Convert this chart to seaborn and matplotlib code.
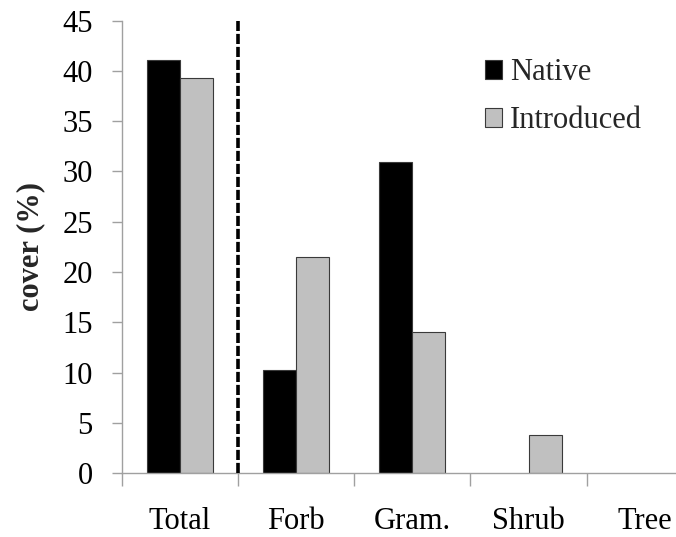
import matplotlib
matplotlib.use("Agg")
import matplotlib.pyplot as plt
from matplotlib.patches import Patch
import seaborn as sns
import pandas as pd

categories = ["Total", "Forb", "Gram.", "Shrub", "Tree"]
native = [41.1, 10.3, 30.9, 0.0, 0.0]
introduced = [39.3, 21.5, 14.0, 3.8, 0.0]
origins = ["Native", "Introduced"]
colors = ["#000000", "#c0c0c0"]
y_ticks = [0, 5, 10, 15, 20, 25, 30, 35, 40, 45]

df = pd.DataFrame({
    "category": categories * 2,
    "cover": native + introduced,
    "origin": [origins[0]] * len(categories) + [origins[1]] * len(categories),
})

sns.set_theme(style="white")
plt.rcParams["font.family"] = ["Liberation Serif", "DejaVu Serif"]

fig = plt.figure(figsize=(6.76, 5.37), dpi=100)
ax = fig.add_axes([0.1805, 0.1186, 0.8195, 0.8432])

sns.barplot(data=df, x="category", y="cover", hue="origin", order=categories,
            hue_order=origins, palette=colors, width=0.57, gap=0,
            edgecolor="#3a3a3a", linewidth=0.8, saturation=1, ax=ax,
            legend=False, errorbar=None)

# empty bars should not leave an outline on the baseline
for bar in ax.patches:
    if bar.get_height() == 0:
        bar.set_linewidth(0)

# dashed separator between the total and the growth forms
ax.plot([0.5, 0.5], [0, 45], color="black", lw=2.6,
        linestyle=(0, (2.8, 0.8)), solid_capstyle="butt", zorder=3)

ax.set_yticks(y_ticks)
ax.set_yticklabels([str(t) for t in y_ticks], fontsize=22)

ax.set_xticks(range(len(categories)))
ax.set_xticklabels(categories, fontsize=22)
ax.set_xticks([i - 0.5 for i in range(len(categories) + 1)], minor=True)
ax.tick_params(axis="x", which="major", length=0, pad=24, colors="black")
ax.tick_params(axis="x", which="minor", length=9, width=1, color="#a0a0a0",
               direction="out", bottom=True)
ax.tick_params(axis="y", which="major", length=7, width=1, color="#a0a0a0",
               direction="out", left=True, pad=14, labelcolor="black")

ax.set_ylim(0, 45)
ax.set_xlim(-0.5, 4.27)

for side in ["top", "right"]:
    ax.spines[side].set_visible(False)
for side in ["left", "bottom"]:
    ax.spines[side].set_color("#a0a0a0")
    ax.spines[side].set_linewidth(1)

ax.set_xlabel("")
ax.set_ylabel("cover (%)", fontsize=22, fontweight="bold", labelpad=12)

handles = [Patch(facecolor=c, edgecolor="#3a3a3a", linewidth=0.8) for c in colors]
ax.legend(handles, origins, loc="upper left",
          bbox_to_anchor=(485 / 676, 1 - 58 / 537), bbox_transform=fig.transFigure,
          frameon=False, fontsize=22, borderpad=0, borderaxespad=0,
          handlelength=0.57, handleheight=0.57, handletextpad=0.25,
          labelspacing=0.62)

fig.savefig("out.png", dpi=100)
